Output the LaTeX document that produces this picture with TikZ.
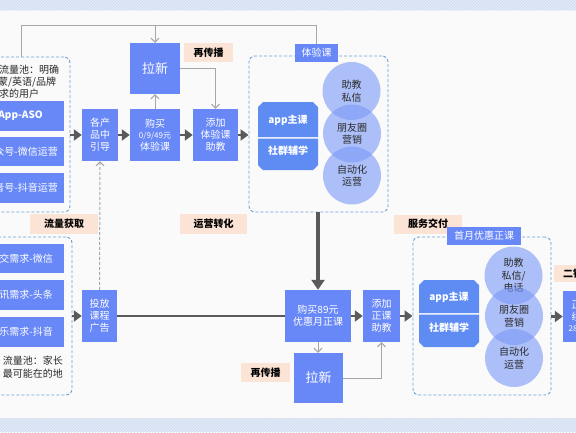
\documentclass[tikz,border=0pt]{standalone}
\usepackage{fontspec}
\setmainfont{Noto Sans CJK SC}
\usetikzlibrary{arrows.meta,patterns}
\definecolor{bg}{HTML}{FAFAFA}
\definecolor{band}{HTML}{E4EBF8}
\definecolor{bandline}{HTML}{CBD8F0}
\definecolor{boxblue}{HTML}{6888F8}
\definecolor{appblue}{HTML}{5E8CF3}
\definecolor{circblue}{HTML}{7B98F7}
\definecolor{peach}{HTML}{FBE4D5}
\definecolor{dashblue}{HTML}{6EA2D6}
\definecolor{thickgray}{HTML}{5A5A5A}
\definecolor{thingray}{HTML}{A6A6A6}
\definecolor{txt}{HTML}{2A2A2A}
\begin{document}
\begin{tikzpicture}[x=1pt,y=-1pt,
  bbox/.style={fill=boxblue,text=white,align=center,inner sep=0pt,font=\fontsize{10}{12}\selectfont},
  lbox/.style={fill=boxblue,text=white,inner sep=0pt,font=\fontsize{10}{12}\selectfont},
  peachlab/.style={fill=peach,text=black,inner sep=0pt,font=\fontsize{10}{12}\selectfont\bfseries},
  tlab/.style={fill=boxblue,text=white,inner sep=0pt,font=\fontsize{10}{12}\selectfont},
  cont/.style={draw=dashblue,dashed,dash pattern=on 3pt off 2pt,line width=0.9pt,rounded corners=6pt,inner sep=0pt},
  circ/.style={circle,fill=circblue,fill opacity=0.6,text opacity=1,text=txt,minimum size=58pt,inner sep=0pt,align=center,font=\fontsize{10}{12.5}\selectfont},
  apptxt/.style={text=white,font=\fontsize{10}{12}\selectfont\bfseries,inner sep=0pt},
  desc/.style={text=txt,align=left,inner sep=0pt,font=\fontsize{10}{12}\selectfont},
  thk/.style={draw=thickgray,line width=2.6pt,-{Triangle[length=8pt,width=11pt]}},
  thkline/.style={draw=thickgray,line width=2.6pt},
  thkv/.style={draw=thickgray,line width=3.4pt,-{Triangle[length=10pt,width=13pt]}},
  thn/.style={draw=thingray,line width=1pt,-{Straight Barb[length=4pt,width=8pt]}},
  thinline/.style={draw=thingray,line width=1pt},
  dsh/.style={draw=thingray,line width=1pt,dash pattern=on 3pt off 2pt,-{Straight Barb[length=4pt,width=8pt]}}
]
\useasboundingbox (0,0) rectangle (576,432);
\clip (0,0) rectangle (576,432);
\fill[bg] (0,0) rectangle (576,432);
\fill[band] (0,0) rectangle (576,10);
\fill[pattern=north east lines,pattern color=bandline] (0,0) rectangle (576,10);
\fill[band] (0,418) rectangle (576,432);
\fill[pattern=north east lines,pattern color=bandline] (0,418) rectangle (576,432);

% left containers
\node[cont,minimum width=90pt,minimum height=155pt] (c1) at (25,134.5) {};
\node[cont,minimum width=92pt,minimum height=158pt] (c2) at (26,316) {};
\node[desc,anchor=west] (d1) at (-1,70) {流量池：明确};
\node[desc,anchor=west] (d2) at (-2,82) {蒙/英语/品牌};
\node[desc,anchor=west] (d3) at (-1,93.5) {求的用户};
\node[lbox,minimum width=104pt,minimum height=30pt] (s1) at (12,116) {};
\node[lbox,minimum width=104pt,minimum height=29pt] (s2) at (12,151.5) {};
\node[lbox,minimum width=104pt,minimum height=30pt] (s3) at (12,188) {};
\node[apptxt,anchor=east] (s1t) at (43,116) {App-ASO};
\node[text=white,inner sep=0pt,anchor=east,font=\fontsize{10}{12}\selectfont] (s2t) at (58,151.5) {公众号-微信运营};
\node[text=white,inner sep=0pt,anchor=east,font=\fontsize{10}{12}\selectfont] (s3t) at (58,188) {抖音号-抖音运营};
\node[lbox,minimum width=104pt,minimum height=29pt] (b1) at (12,258.5) {};
\node[lbox,minimum width=104pt,minimum height=30pt] (b2) at (12,295) {};
\node[lbox,minimum width=104pt,minimum height=30pt] (b3) at (12,332) {};
\node[text=white,inner sep=0pt,anchor=east,font=\fontsize{10}{12}\selectfont] (b1t) at (53,258.5) {社交需求-微信};
\node[text=white,inner sep=0pt,anchor=east,font=\fontsize{10}{12}\selectfont] (b2t) at (53,295) {资讯需求-头条};
\node[text=white,inner sep=0pt,anchor=east,font=\fontsize{10}{12}\selectfont] (b3t) at (53,332) {娱乐需求-抖音};
\node[desc,anchor=east] (e1) at (63,361) {流量池：家长};
\node[desc,anchor=east] (e2) at (63,373.5) {最可能在的地};

% peach labels
\node[peachlab,minimum width=49pt,minimum height=19pt] (r1) at (208.5,52.5) {再传播};
\node[peachlab,minimum width=67pt,minimum height=20pt] (p2) at (213.5,224) {运营转化};
\node[peachlab,minimum width=68pt,minimum height=20pt] (p1) at (64,224) {流量获取};
\node[peachlab,minimum width=68pt,minimum height=19pt] (p3) at (428,224) {服务交付};
\node[peachlab,minimum width=49pt,minimum height=19pt] (r2) at (265.5,372.5) {再传播};
\node[peachlab,minimum width=58pt,minimum height=17pt] (p4) at (583,273.5) {二销转化};

% top flow
\node[bbox,minimum width=50pt,minimum height=51pt,font=\fontsize{13}{15}\selectfont] (lx1) at (155,68.5) {拉新};
\node[bbox,minimum width=36pt,minimum height=52pt] (guide) at (100,135) {各产\\品中\\引导};
\node[bbox,minimum width=50pt,minimum height=52pt] (buy1) at (155,135) {购买\\[-1pt]{\fontsize{8}{10}\selectfont 0/9/49元}\\体验课};
\node[bbox,minimum width=45pt,minimum height=52pt] (add1) at (215.5,135) {添加\\体验课\\助教};

% trial container
\node[cont,minimum width=139pt,minimum height=156pt] (cont1) at (318.5,134) {};
\node[tlab,minimum width=43pt,minimum height=18pt] (lab1) at (316.5,53) {体验课};
\fill[appblue] (258,137) -- (258,107) -- (263,102) -- (313,102) -- (318,107) -- (318,137) -- cycle;
\fill[appblue] (258,138.6) -- (258,165) -- (263,170) -- (313,170) -- (318,165) -- (318,138.6) -- cycle;
\node[apptxt] (a1) at (288,120) {app主课};
\node[apptxt] (a2) at (288,151) {社群辅学};
\node[circ] (ci1) at (351.5,91) {助教\\私信};
\node[circ] (ci2) at (352,133.5) {朋友圈\\营销};
\node[circ] (ci3) at (352,175.5) {自动化\\运营};

% bottom flow
\node[bbox,minimum width=35pt,minimum height=52pt] (ad) at (99.5,316) {投放\\课程\\广告};
\node[bbox,minimum width=66pt,minimum height=52pt] (buy2) at (318,316) {购买89元\\优惠月正课};
\node[bbox,minimum width=37pt,minimum height=52pt] (add2) at (381.5,316) {添加\\正课\\助教};
\node[bbox,minimum width=49pt,minimum height=50pt,font=\fontsize{13}{15}\selectfont] (lx2) at (318.5,378) {拉新};

% first-month container
\node[cont,minimum width=138pt,minimum height=158pt] (cont2) at (482,316) {};
\node[tlab,minimum width=74pt,minimum height=18pt] (lab2) at (484,236) {首月优惠正课};
\fill[appblue] (419,313) -- (419,285) -- (424,280) -- (474,280) -- (479,285) -- (479,313) -- cycle;
\fill[appblue] (419,314.6) -- (419,342) -- (424,347) -- (474,347) -- (479,342) -- (479,314.6) -- cycle;
\node[apptxt] (a3) at (449,297.5) {app主课};
\node[apptxt] (a4) at (449,328) {社群辅学};
\node[circ] (cj1) at (513.5,275.5) {助教\\私信/\\电话};
\node[circ] (cj2) at (514,316) {朋友圈\\营销};
\node[circ] (cj3) at (514,358) {自动化\\运营};

% right box
\node[bbox,minimum width=37pt,minimum height=51pt] (rb) at (581.5,316.5) {正价\\续费\\[-1pt]{\fontsize{8}{10}\selectfont 2800元}};

% connectors
\coordinate (t0) at (21,57);
\draw[thinline] (t0) -- (21,25.5) -| (lab1.north);
\draw[thn] (lx1.north |- 0,25.5) -- (lx1.north);
\draw[thn] (buy1.north) -- (lx1.south);
\draw[thn] (lx1.east) -| (add1.north);
\draw[thn] (buy2.south) -- (buy2.south |- lx2.north);
\draw[thn] (lx2.east) -| (add2.south);
\draw[dsh] (ad.north) -- (guide.south);

\draw[thk] (c1.east |- guide) -- (guide.west);
\draw[thk] (guide.east) -- (buy1.west);
\draw[thk] (buy1.east) -- (add1.west);
\draw[thk] (add1.east) -- (cont1.west |- add1);
\draw[thk] (c2.east |- ad) -- (ad.west);
\draw[thkline] (ad.east) -- (buy2.west);
\draw[thk] (buy2.east) -- (add2.west);
\draw[thk] (add2.east) -- (cont2.west |- add2);
\draw[thk] (cont2.east |- rb) -- (rb.west);
\draw[thkv] (cont1.south -| buy2) -- (buy2.north);
\end{tikzpicture}
\end{document}
